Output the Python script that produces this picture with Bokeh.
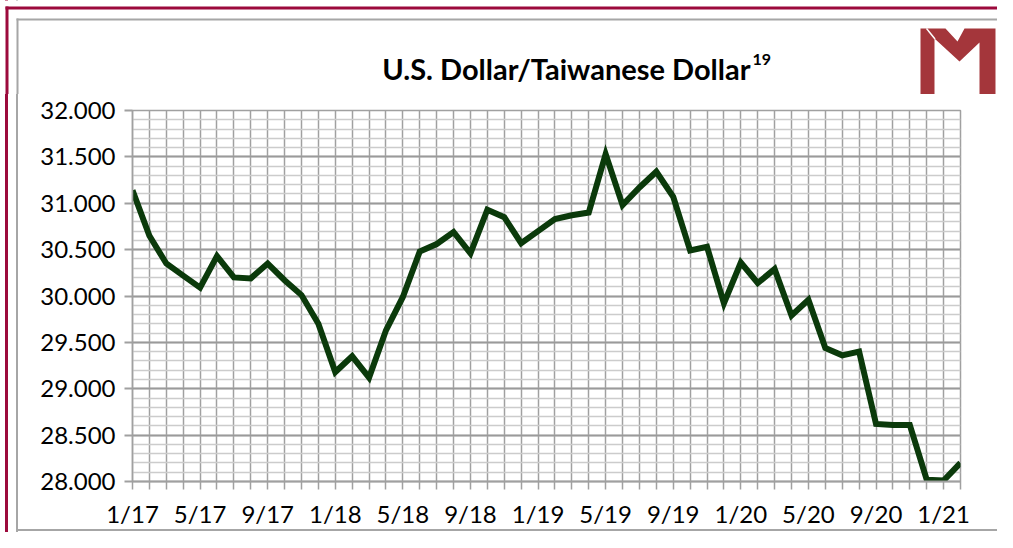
from bokeh.plotting import figure
from bokeh.layouts import column, row
from bokeh.models import (Range1d, FixedTicker, SingleIntervalTicker, NumeralTickFormatter,
                          ColumnDataSource)
from bokeh.core.properties import value
from bokeh.embed import file_html
from bokeh.resources import INLINE

# ---- data ----
months = ["1/17", "2/17", "3/17", "4/17", "5/17", "6/17", "7/17", "8/17", "9/17", "10/17", "11/17", "12/17",
          "1/18", "2/18", "3/18", "4/18", "5/18", "6/18", "7/18", "8/18", "9/18", "10/18", "11/18", "12/18",
          "1/19", "2/19", "3/19", "4/19", "5/19", "6/19", "7/19", "8/19", "9/19", "10/19", "11/19", "12/19",
          "1/20", "2/20", "3/20", "4/20", "5/20", "6/20", "7/20", "8/20", "9/20", "10/20", "11/20", "12/20",
          "1/21", "2/21"]
usd_twd = [31.14, 30.65, 30.35, 30.22, 30.09, 30.43, 30.20, 30.19, 30.35, 30.17, 30.01, 29.70,
           29.18, 29.35, 29.12, 29.63, 29.99, 30.48, 30.56, 30.69, 30.46, 30.93, 30.85, 30.57,
           30.70, 30.83, 30.87, 30.90, 31.53, 30.98, 31.17, 31.34, 31.07, 30.49, 30.53, 29.92,
           30.36, 30.14, 30.29, 29.79, 29.96, 29.44, 29.36, 29.40, 28.62, 28.61, 28.61, 28.02,
           28.01, 28.20]
tick_labels = ["1/17", "5/17", "9/17", "1/18", "5/18", "9/18", "1/19", "5/19", "9/19",
               "1/20", "5/20", "9/20", "1/21"]
y_min, y_max = 28.0, 32.0
title_text = "U.S. Dollar/Taiwanese Dollar"
title_sup = "19"

# ---- styling ----
FONT = "Lato"
GRID = "#a0a0a0"
MINOR = "#cccccc"
MAROON = "#9c0a3c"
FRAME_GRAY = "#a6a6a6"
LOGO = "#a4363b"
LINE = "#0b3a0b"

W, H_TOP, H_MAIN = 997, 94, 438

# header figure: frame fills the whole canvas (title, logo, top borders)
head = figure(width=W, height=H_TOP, x_range=Range1d(0, W), y_range=Range1d(H_TOP, 0),
              x_axis_type=None, y_axis_type=None, output_backend="svg", toolbar_location=None,
              min_border=0)
head.outline_line_color = None
head.background_fill_color = "white"
head.border_fill_color = "white"
head.quad(left=[5, 5], right=[W, 8], top=[6, 6], bottom=[9, H_TOP], color=MAROON, line_color=None)
head.quad(left=[16, 16], right=[W, 18], top=[18, 18], bottom=[20, H_TOP], color=FRAME_GRAY, line_color=None)
logo_x = [920, 945, 957, 964, 995, 995, 979, 979, 959, 934, 934, 920]
logo_y = [28, 28, 41, 28, 28, 94, 94, 42, 61, 38, 94, 94]
head.patch(logo_x, logo_y, color=LOGO, line_color=None)
head.line([926, 934.5], [28, 38.5], line_color="white", line_width=1.5)
head.text(x=[750], y=[68], text=[title_text], text_font=value(FONT), text_font_style="bold",
          text_font_size="29px", text_align="right", text_baseline="alphabetic", text_color="#000000")
head.text(x=[752], y=[59], text=[title_sup], text_font=value(FONT), text_font_style="bold",
          text_font_size="16px", text_align="left", text_baseline="alphabetic", text_color="#000000")

# main chart
idx = list(range(len(months)))
src = ColumnDataSource(data=dict(x=idx, y=usd_twd, month=months))

p = figure(width=W, height=H_MAIN, x_range=Range1d(0, len(months) - 1),
           y_range=Range1d(y_min, y_max), output_backend="svg", toolbar_location=None,
           min_border_left=132, min_border_right=37, min_border_top=16, min_border_bottom=51)
p.background_fill_color = "white"
p.border_fill_color = None
p.outline_line_color = GRID
p.outline_line_width = 1.5

p.xaxis.ticker = FixedTicker(ticks=idx)
p.xaxis.major_label_overrides = {i: (m if m in tick_labels else "") for i, m in zip(idx, months)}
p.xaxis.major_tick_out = 8
p.xaxis.major_tick_in = 0
p.xaxis.minor_tick_line_color = None
p.xaxis.major_tick_line_color = GRID
p.xaxis.major_tick_line_width = 1.5
p.xaxis.axis_line_color = GRID
p.xaxis.axis_line_width = 2
p.xaxis.major_label_standoff = 9

p.yaxis.ticker = SingleIntervalTicker(interval=0.5, num_minor_ticks=5)
p.yaxis.formatter = NumeralTickFormatter(format="0.000")
p.yaxis.major_tick_out = 8
p.yaxis.major_tick_in = 0
p.yaxis.minor_tick_line_color = None
p.yaxis.major_tick_line_color = GRID
p.yaxis.major_tick_line_width = 2
p.yaxis.axis_line_color = GRID
p.yaxis.axis_line_width = 1.5
p.yaxis.major_label_standoff = 9

for ax in (p.xaxis, p.yaxis):
    ax.major_label_text_font = FONT
    ax.major_label_text_font_size = "24px"
    ax.major_label_text_color = "#000000"

p.xgrid.grid_line_color = GRID
p.xgrid.grid_line_width = 1.5
p.ygrid.grid_line_color = "#9a9a9a"
p.ygrid.grid_line_width = 2
p.ygrid.minor_grid_line_color = MINOR
p.ygrid.minor_grid_line_width = 1.5

p.line("x", "y", source=src, line_width=6, line_color=LINE, line_join="miter")

# page frame lines behind the chart's (transparent) margins
bg = ("linear-gradient(to bottom, transparent 529px, %s 529px, %s 531px, transparent 531px) "
      "16px 0 / 100%% 100%% no-repeat, "
      "linear-gradient(to right, #ffffff 5px, %s 5px, %s 8px, #ffffff 8px, #ffffff 16px, "
      "%s 16px, %s 18px, #ffffff 18px)") % (FRAME_GRAY, FRAME_GRAY, MAROON, MAROON, FRAME_GRAY, FRAME_GRAY)

layout = column(head, row(p), styles={"background": bg})
open("out.html", "w").write(file_html(layout, INLINE))
